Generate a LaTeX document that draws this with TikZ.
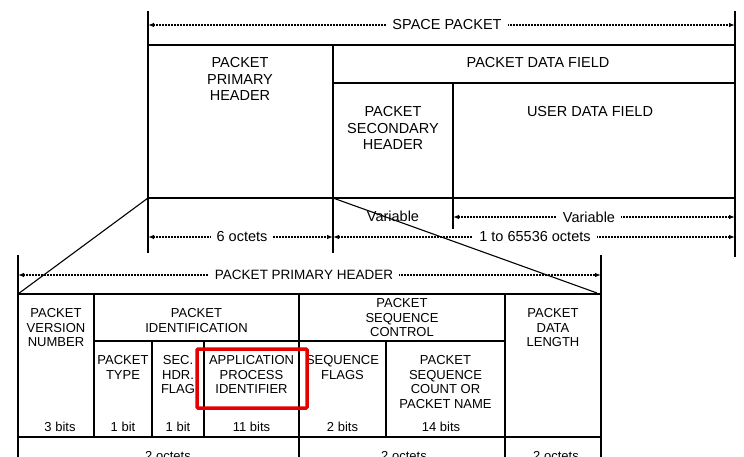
\documentclass[tikz,border=0pt]{standalone}
\usepackage{fontspec}
\setmainfont{Liberation Sans}
\usetikzlibrary{arrows.meta}
\begin{document}
\begin{tikzpicture}[x=1pt,y=-1pt,
  ln/.style={line width=1.5pt, line cap=rect},
  thin/.style={line width=1.1pt},
  dimarr/.style={line width=1.1pt, dash pattern=on 2pt off 1pt,
    {Latex[length=6pt,width=4.5pt]}-{Latex[length=6pt,width=4.5pt]}},
  arrlab/.style={fill=white, inner xsep=6pt, inner ysep=1pt, font=\fontsize{14.5}{16.5}\selectfont},
  txtbig/.style={align=center, font=\fontsize{14.5}{16.5}\selectfont, inner sep=0pt, anchor=north},
  txtsm/.style={align=center, font=\fontsize{13}{14.5}\selectfont, inner sep=0pt, anchor=north},
  bitlab/.style={font=\fontsize{13}{14.5}\selectfont, inner sep=0pt},
  redbox/.style={draw=red!90!black, line width=3.5pt, rounded corners=1pt},
]
\useasboundingbox (0,0) rectangle (744,457);
\clip (0,0) rectangle (744,457);

% ---------- top: space packet ----------
\coordinate (tl) at (148,12);  \coordinate (tr) at (735,12);
\coordinate (spL) at (148,25); \coordinate (spR) at (735,25);
\draw[ln] (tl) -- (148,252);
\draw[ln] (tr) -- (735,256);
\draw[ln] (148,45) -- (735,45);
\draw[ln] (333,83) -- (735,83);
\draw[ln] (148,198) -- (735,198);
\draw[ln] (333,45) -- (333,252);
\draw[ln] (453,83) -- (453,228);

\draw[dimarr] (spL) -- (spR);
\node[arrlab] (sp) at (447,25) {SPACE PACKET};

\node[txtbig] (pph) at (240,57.5) {PACKET\\PRIMARY\\HEADER};
\node[txtbig] (pdf) at (538,57.5) {PACKET DATA FIELD};
\node[txtbig] (psh) at (393,106.5) {PACKET\\SECONDARY\\HEADER};
\node[txtbig] (udf) at (590,106.5) {USER DATA FIELD};

\node[font=\fontsize{14.5}{16.5}\selectfont, inner sep=0pt] (var1) at (393,216) {Variable};
\coordinate (vL) at (453,217); \coordinate (vR) at (735,217);
\draw[dimarr] (vL) -- (vR);
\node[arrlab] (var2) at (589,217) {Variable};

\coordinate (oA) at (148,237); \coordinate (oB) at (333,237); \coordinate (oC) at (735,237);
\draw[dimarr] (oA) -- (oB);
\draw[dimarr] (oB) -- (oC);
\node[arrlab] (six) at (242,237) {6 octets};
\node[arrlab] (big) at (535,237) {1 to 65536 octets};

% ---------- bottom: packet primary header ----------
\draw[ln] (18,256) -- (18,457);
\draw[ln] (601,256) -- (601,457);
\draw[ln] (18,294) -- (601,294);
\draw[ln] (94,341) -- (505,341);
\draw[ln] (18,437) -- (601,437);
\draw[ln] (94,294) -- (94,437);
\draw[ln] (299,294) -- (299,457);
\draw[ln] (505,294) -- (505,457);
\draw[ln] (152,341) -- (152,437);
\draw[ln] (204,341) -- (204,437);
\draw[ln] (386,341) -- (386,437);

\coordinate (hL) at (18,275); \coordinate (hR) at (601,275);
\draw[dimarr] (hL) -- (hR);
\node[arrlab, font=\fontsize{13.5}{15}\selectfont] (pphb) at (304,275) {PACKET PRIMARY HEADER};

\node[txtsm] (pvn) at (56,308.7) {PACKET\\VERSION\\NUMBER};
\node[txtsm] (pid) at (196.5,308.7) {PACKET\\IDENTIFICATION};
\node[txtsm] (psc) at (402,298.7) {PACKET\\SEQUENCE\\CONTROL};
\node[txtsm] (pdl) at (553,308.7) {PACKET\\DATA\\LENGTH};
\node[txtsm] (ptype) at (123,355.4) {PACKET\\TYPE};
\node[txtsm] (shf) at (178,355.4) {SEC.\\HDR.\\FLAG};
\node[txtsm] (apid) at (251.5,355.4) {APPLICATION\\PROCESS\\IDENTIFIER};
\node[txtsm] (sqf) at (342.5,355.4) {SEQUENCE\\FLAGS};
\node[txtsm] (sqc) at (445.5,355.4) {PACKET\\SEQUENCE\\COUNT OR\\PACKET NAME};

\node[bitlab] (b1) at (60,427) {3 bits};
\node[bitlab] (b2) at (123,427) {1 bit};
\node[bitlab] (b3) at (178,427) {1 bit};
\node[bitlab] (b4) at (251.5,427) {11 bits};
\node[bitlab] (b5) at (342.5,427) {2 bits};
\node[bitlab] (b6) at (441,427) {14 bits};

\node[bitlab] (o1) at (168,456) {2 octets};
\node[bitlab] (o2) at (404,456) {2 octets};
\node[bitlab] (o3) at (556,456) {2 octets};

\draw[redbox] (197,349) rectangle (307,408);

% ---------- expansion diagonals ----------
\draw[thin] (148,198) -- (18,294);
\draw[thin] (333,198) -- (597,293);
\end{tikzpicture}
\end{document}
